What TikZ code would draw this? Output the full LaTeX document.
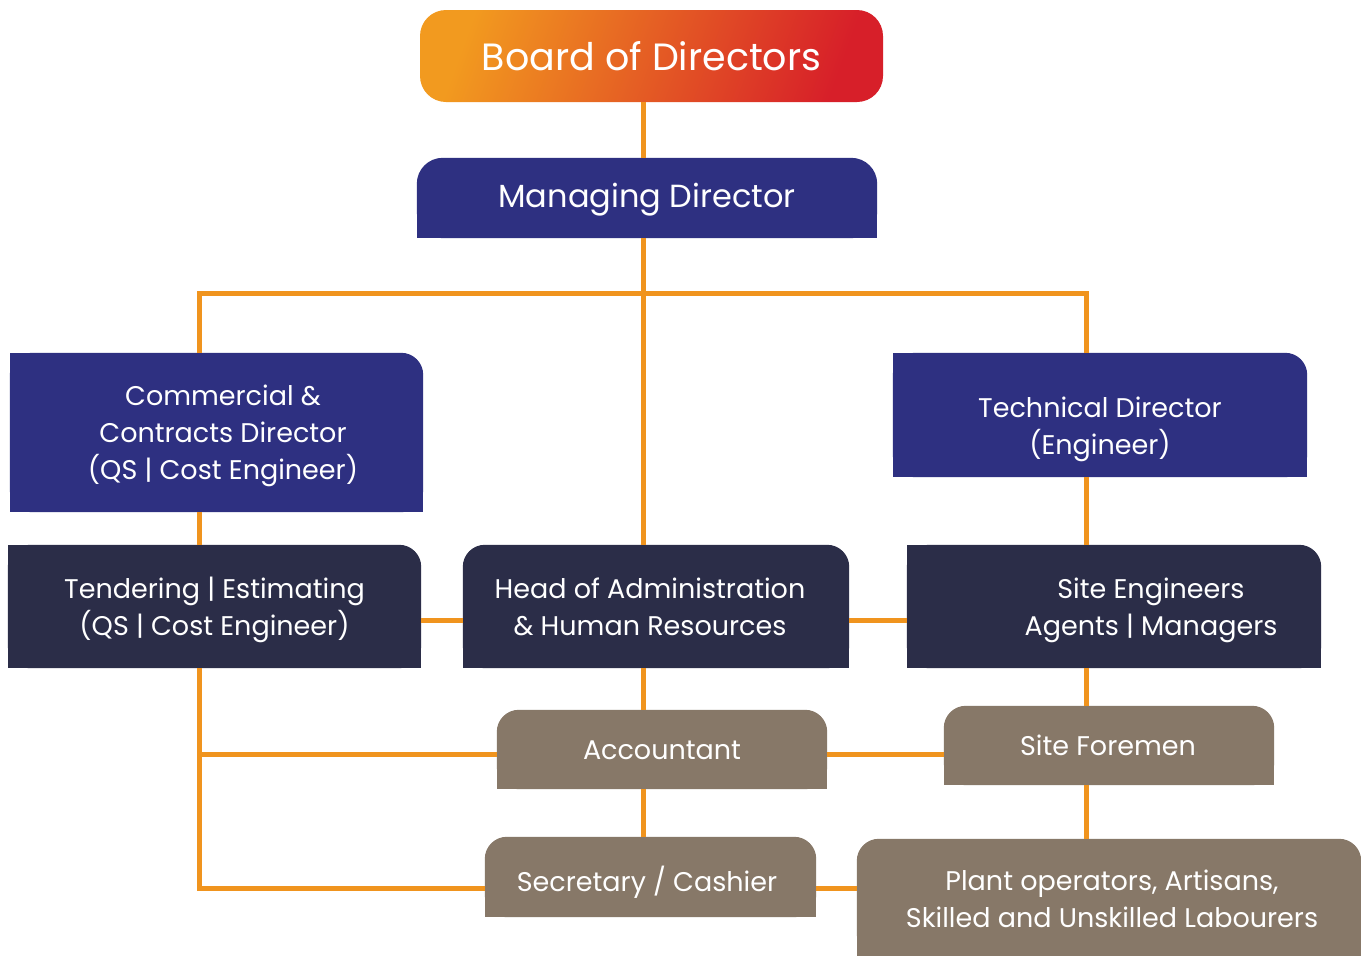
\documentclass[tikz,border=0pt]{standalone}
\usepackage{fontspec}
\setmainfont{Poppins}
\usetikzlibrary{backgrounds}
\definecolor{mdblue}{HTML}{2E3081}
\definecolor{navy}{HTML}{2B2D48}
\definecolor{taupe}{HTML}{877868}
\definecolor{linkorange}{HTML}{F0941E}
\definecolor{bdorange}{HTML}{F29A1F}
\definecolor{bdred}{HTML}{D71F29}
% fill a box with rounded top corners and a flat bottom
\newcommand{\tabfill}[3][22pt]{\fill[#3, rounded corners=#1] (#2.south west) rectangle (#2.north east);
	\fill[#3] (#2.south west) rectangle (#2.east);}
% same, but with a square top left corner too
\newcommand{\tabfillsq}[2]{\tabfill{#1}{#2}\fill[#2] (#1.south west) rectangle (#1.north);}

\begin{document}
\begin{tikzpicture}[x=1pt, y=-1pt,
		tab/.style={inner sep=0pt},
		txt/.style={inner sep=0pt, text=white, align=center, font=\fontsize{27}{37}\selectfont},
		link/.style={draw=linkorange, line width=5pt}]
		%%%%% START %%%%%
		\useasboundingbox (0,0) rectangle (1361,956);
		
		\node[txt, minimum width=463pt, minimum height=92pt, rounded corners=26pt,
			left color=bdorange, right color=bdred, shading angle=70,
			font=\fontsize{38}{44}\selectfont] (board) at (651.5,56) {Board of Directors};
		
		% boxes
		\node[tab, minimum width=460pt, minimum height=80pt] (md) at (647,198) {};
		\node[tab, minimum width=413pt, minimum height=159pt] (ccd) at (216.5,432.5) {};
		\node[tab, minimum width=414pt, minimum height=124pt] (td) at (1100,415) {};
		\node[tab, minimum width=413pt, minimum height=123pt] (ten) at (214.5,606.5) {};
		\node[tab, minimum width=386pt, minimum height=123pt] (hoa) at (656,606.5) {};
		\node[tab, minimum width=414pt, minimum height=123pt] (se) at (1114,606.5) {};
		\node[tab, minimum width=330pt, minimum height=79pt] (acc) at (662,749.5) {};
		\node[tab, minimum width=330pt, minimum height=79pt] (sf) at (1109,745.5) {};
		\node[tab, minimum width=331pt, minimum height=80pt] (sec) at (650.5,877) {};
		\node[tab, minimum width=504pt, minimum height=117pt] (plant) at (1109,897.5) {};
		
		% texts
		\node[txt, font=\fontsize{32}{38}\selectfont] (md-t) at (647,200) {Managing Director};
		\node[txt] (ccd-t) at (223,436) {Commercial \&\\Contracts Director\\(QS | Cost Engineer)};
		\node[txt] (td-t) at (1100,429.5) {Technical Director\\(Engineer)};
		\node[txt] (ten-t) at (214.5,609.5) {Tendering | Estimating\\(QS | Cost Engineer)};
		\node[txt] (hoa-t) at (650,606.5) {Head of Administration\\\& Human Resources};
		\node[txt] (se-t) at (1151,610) {Site Engineers\\Agents | Managers};
		\node[txt] (acc-t) at (662,750.5) {Accountant};
		\node[txt] (sf-t) at (1108,745.5) {Site Foremen};
		\node[txt] (sec-t) at (647,882) {Secretary / Cashier};
		\node[txt] (plant-t) at (1112,898.5) {Plant operators, Artisans,\\Skilled and Unskilled Labourers};
		
		\begin{scope}[on background layer]
			\fill[white] (0,0) rectangle (1361,956);
			\tabfill[26pt]{md}{mdblue}
			\tabfillsq{ccd}{mdblue}
			\tabfillsq{td}{mdblue}
			\tabfillsq{ten}{navy}
			\tabfill{hoa}{navy}
			\tabfillsq{se}{navy}
			\tabfill{acc}{taupe}
			\tabfill{sf}{taupe}
			\tabfill{sec}{taupe}
			\tabfill{plant}{taupe}
		\end{scope}
		
		% line positions
		\coordinate (spine) at (643,293);
		\coordinate (barL) at (199,293);
		\coordinate (barR) at (1086,293);
		\coordinate (rowM) at (0,620);
		\coordinate (rowA) at (0,754);
		\coordinate (rowB) at (0,888);
		
		\draw[link] (board.south -| spine) -- (md.north -| spine);
		\draw[link] (spine |- md.south) -- (spine |- hoa.north);
		\draw[link] (barL |- ccd.north) -- (barL) -- (barR) -- (barR |- td.north);
		\draw[link] (barL |- ccd.south) -- (barL |- ten.north);
		\draw[link] (barR |- td.south) -- (barR |- se.north);
		
		\draw[link] (ten.east |- rowM) -- (hoa.west |- rowM);
		\draw[link] (hoa.east |- rowM) -- (se.west |- rowM);
		
		\draw[link] (barL |- ten.south) -- (barL |- rowB) -- (sec.west |- rowB);
		\draw[link] (barL |- rowA) -- (acc.west |- rowA);
		\draw[link] (acc.east |- rowA) -- (sf.west |- rowA);
		\draw[link] (sec.east |- rowB) -- (plant.west |- rowB);
		
		\draw[link] (spine |- hoa.south) -- (spine |- acc.north);
		\draw[link] (spine |- acc.south) -- (spine |- sec.north);
		\draw[link] (barR |- se.south) -- (barR |- sf.north);
		\draw[link] (barR |- sf.south) -- (barR |- plant.north);
		%%%%% END %%%%%
\end{tikzpicture}
\end{document}
